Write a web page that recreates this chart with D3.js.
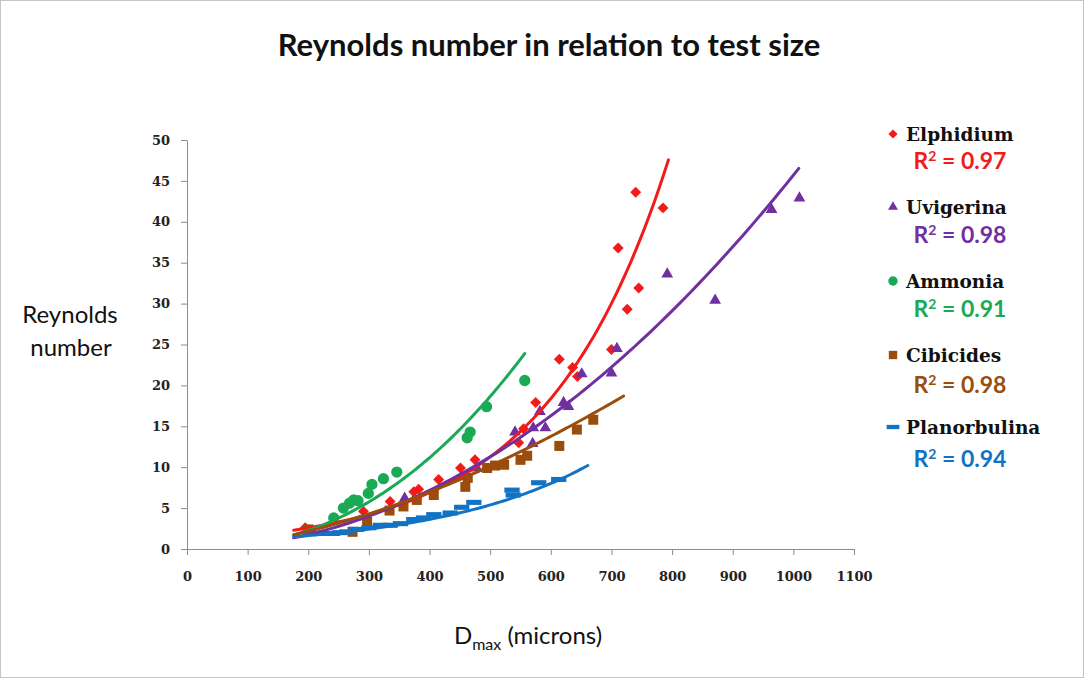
<!DOCTYPE html>
<html>
<head>
<meta charset="utf-8">
<script src="https://cdn.jsdelivr.net/npm/d3@7"></script>
<style>
  html, body { margin: 0; padding: 0; background: #fff; }
  #chart { width: 1085px; height: 679px; }
  .axis path, .axis line { stroke: #8c8c8c; }
  .axis text { font-family: 'DejaVu Serif', serif; font-weight: bold; font-size: 13px; fill: #222; }
</style>
</head>
<body>
<div id="chart"></div>
<script>
  var seriesNames = ['Elphidium', 'Uvigerina', 'Ammonia', 'Cibicides', 'Planorbulina'];
  var seriesColors = ['#f21b1b', '#7030a0', '#1aaa55', '#9a4d0c', '#1273c4'];
  var rSquared = ['0.97', '0.98', '0.91', '0.98', '0.94'];

  var elphidiumX = [195, 291, 335, 374, 382, 415, 451, 475, 547, 555, 575, 614, 636, 644, 700, 711, 726, 745, 740, 785];
  var elphidiumY = [2.6, 4.6, 5.8, 7.0, 7.3, 8.5, 9.9, 10.9, 13.0, 14.7, 17.9, 23.2, 22.2, 21.1, 24.4, 36.8, 29.3, 31.9, 43.6, 41.7];

  var uvigerinaX = [359, 478, 541, 570, 571, 591, 582, 621, 629, 651, 700, 709, 792, 871, 964, 1010];
  var uvigerinaY = [6.2, 9.9, 14.3, 12.9, 14.8, 14.8, 16.8, 17.9, 17.4, 21.4, 21.5, 24.5, 33.6, 30.4, 41.5, 42.9];

  var ammoniaX = [242, 258, 268, 275, 282, 299, 305, 324, 346, 462, 467, 494, 557];
  var ammoniaY = [3.8, 5.0, 5.6, 6.0, 5.9, 6.8, 7.9, 8.6, 9.4, 13.6, 14.3, 17.4, 20.6];

  var cibicidesX = [200, 273, 297, 334, 357, 379, 407, 459, 463, 495, 508, 523, 550, 561, 614, 643, 670];
  var cibicidesY = [2.4, 2.1, 3.3, 4.7, 5.2, 6.0, 6.6, 7.6, 8.7, 9.9, 10.2, 10.3, 10.9, 11.4, 12.6, 14.6, 15.8];

  var planorbulinaX = [215, 228, 240, 252, 264, 280, 300, 319, 335, 352, 374, 390, 407, 434, 453, 473, 536, 538, 580, 613];
  var planorbulinaY = [1.9, 1.9, 1.9, 2.0, 2.1, 2.4, 2.6, 2.9, 2.9, 3.1, 3.6, 3.8, 4.2, 4.4, 5.1, 5.7, 7.2, 6.6, 8.1, 8.5];

  // trend curves: exp -> a*e^(b*x), power -> a*x^b
  var trendType = ['exp', 'power', 'power', 'power', 'exp'];
  var trendA = [0.972, 3.98e-5, 1.156e-5, 2.962e-4, 0.7417];
  var trendB = [0.0049, 2.02, 2.3, 1.68, 0.003966];
  var trendFrom = [176, 176, 176, 176, 176];
  var trendTo = [794, 1009, 557, 720, 661];

  var xTickValues = [0, 100, 200, 300, 400, 500, 600, 700, 800, 900, 1000, 1100];
  var yTickValues = [0, 5, 10, 15, 20, 25, 30, 35, 40, 45, 50];

  var seriesX = [elphidiumX, uvigerinaX, ammoniaX, cibicidesX, planorbulinaX];
  var seriesY = [elphidiumY, uvigerinaY, ammoniaY, cibicidesY, planorbulinaY];

  var W = 1085, H = 679;

  var svg = d3.select('#chart').append('svg')
    .attr('width', W)
    .attr('height', H);

  svg.append('rect')
    .attr('x', 0.5).attr('y', 0.5)
    .attr('width', W - 2).attr('height', H - 2)
    .attr('fill', '#fff')
    .attr('stroke', '#c4c4c4');

  var x = d3.scaleLinear().domain([0, 1100]).range([187, 854]);
  var y = d3.scaleLinear().domain([0, 50]).range([549, 140]);

  // title
  svg.append('text')
    .attr('x', 549).attr('y', 56)
    .attr('text-anchor', 'middle')
    .style('font-family', 'Lato, sans-serif')
    .style('font-weight', 'bold')
    .style('font-size', '31px')
    .style('fill', '#111')
    .text('Reynolds number in relation to test size');

  // axes
  svg.append('g')
    .attr('class', 'axis')
    .attr('transform', 'translate(0,' + y(0) + ')')
    .call(d3.axisBottom(x).tickValues(xTickValues).tickFormat(d3.format('d'))
      .tickSize(6).tickPadding(17).tickSizeOuter(0));

  svg.append('g')
    .attr('class', 'axis')
    .attr('transform', 'translate(' + x(0) + ',0)')
    .call(d3.axisLeft(y).tickValues(yTickValues).tickFormat(d3.format('d'))
      .tickSize(6).tickPadding(11).tickSizeOuter(0));

  // axis titles
  var yTitle = svg.append('text')
    .attr('text-anchor', 'middle')
    .style('font-family', 'Lato, sans-serif')
    .style('font-size', '24px')
    .style('fill', '#111');
  yTitle.append('tspan').attr('x', 70).attr('y', 323).text('Reynolds');
  yTitle.append('tspan').attr('x', 71).attr('y', 356).text('number');

  var xTitle = svg.append('text')
    .attr('x', 528).attr('y', 644)
    .attr('text-anchor', 'middle')
    .style('font-family', 'Lato, sans-serif')
    .style('font-size', '24px')
    .style('fill', '#111');
  xTitle.append('tspan').text('D');
  xTitle.append('tspan').attr('dy', 6).style('font-size', '16px').text('max');
  xTitle.append('tspan').attr('dy', -6).text(' (microns)');

  // marker shapes
  var dashSymbol = {
    draw: function (ctx, size) {
      var w = Math.sqrt(size) * 1.8, h = w / 3;
      ctx.rect(-w / 2, -h / 2, w, h);
    }
  };
  var symbolTypes = [d3.symbolSquare, d3.symbolTriangle, d3.symbolCircle, d3.symbolSquare, dashSymbol];
  var symbolSizes = [60, 60, 100, 100, 72];
  var symbolRotate = [45, 0, 0, 0, 0];

  function symbolPath(i, scale) {
    return d3.symbol().type(symbolTypes[i]).size(symbolSizes[i] * (scale || 1))();
  }

  seriesNames.forEach(function (name, i) {
    var pts = seriesX[i].map(function (v, j) { return [v, seriesY[i][j]]; });
    svg.append('g')
      .selectAll('path')
      .data(pts)
      .enter()
      .append('path')
      .attr('d', symbolPath(i))
      .attr('transform', function (d) {
        return 'translate(' + x(d[0]) + ',' + y(d[1]) + ') rotate(' + symbolRotate[i] + ')';
      })
      .attr('fill', seriesColors[i]);
  });

  // trend lines
  var line = d3.line()
    .x(function (d) { return x(d[0]); })
    .y(function (d) { return y(d[1]); });

  seriesNames.forEach(function (name, i) {
    var n = 80, step = (trendTo[i] - trendFrom[i]) / n;
    var pts = d3.range(n + 1).map(function (k) {
      var xv = trendFrom[i] + k * step;
      var yv = trendType[i] === 'exp'
        ? trendA[i] * Math.exp(trendB[i] * xv)
        : trendA[i] * Math.pow(xv, trendB[i]);
      return [xv, yv];
    });
    svg.append('path')
      .datum(pts)
      .attr('d', line)
      .attr('fill', 'none')
      .attr('stroke', seriesColors[i])
      .attr('stroke-width', 3)
      .attr('stroke-linecap', 'round');
  });

  // legend
  var legendNameY = [134, 207, 281, 355, 427];
  var legendRY = [161, 235, 309, 385, 459];
  var legend = svg.append('g');

  seriesNames.forEach(function (name, i) {
    legend.append('path')
      .attr('d', symbolPath(i, 0.7))
      .attr('transform', 'translate(893,' + legendNameY[i] + ') rotate(' + symbolRotate[i] + ')')
      .attr('fill', seriesColors[i]);

    legend.append('text')
      .attr('x', 906).attr('y', legendNameY[i])
      .attr('dy', '0.36em')
      .style('font-family', "'DejaVu Serif', serif")
      .style('font-weight', 'bold')
      .style('font-size', '18.5px')
      .style('fill', '#111')
      .text(name);

    var r = legend.append('text')
      .attr('x', 960).attr('y', legendRY[i])
      .attr('dy', '0.36em')
      .attr('text-anchor', 'middle')
      .style('font-family', 'Lato, sans-serif')
      .style('font-weight', 'bold')
      .style('font-size', '23px')
      .style('fill', seriesColors[i]);
    r.append('tspan').text('R');
    r.append('tspan').attr('dy', -8).style('font-size', '14px').text('2');
    r.append('tspan').attr('dy', 8).text(' = ' + rSquared[i]);
  });
</script>
</body>
</html>
